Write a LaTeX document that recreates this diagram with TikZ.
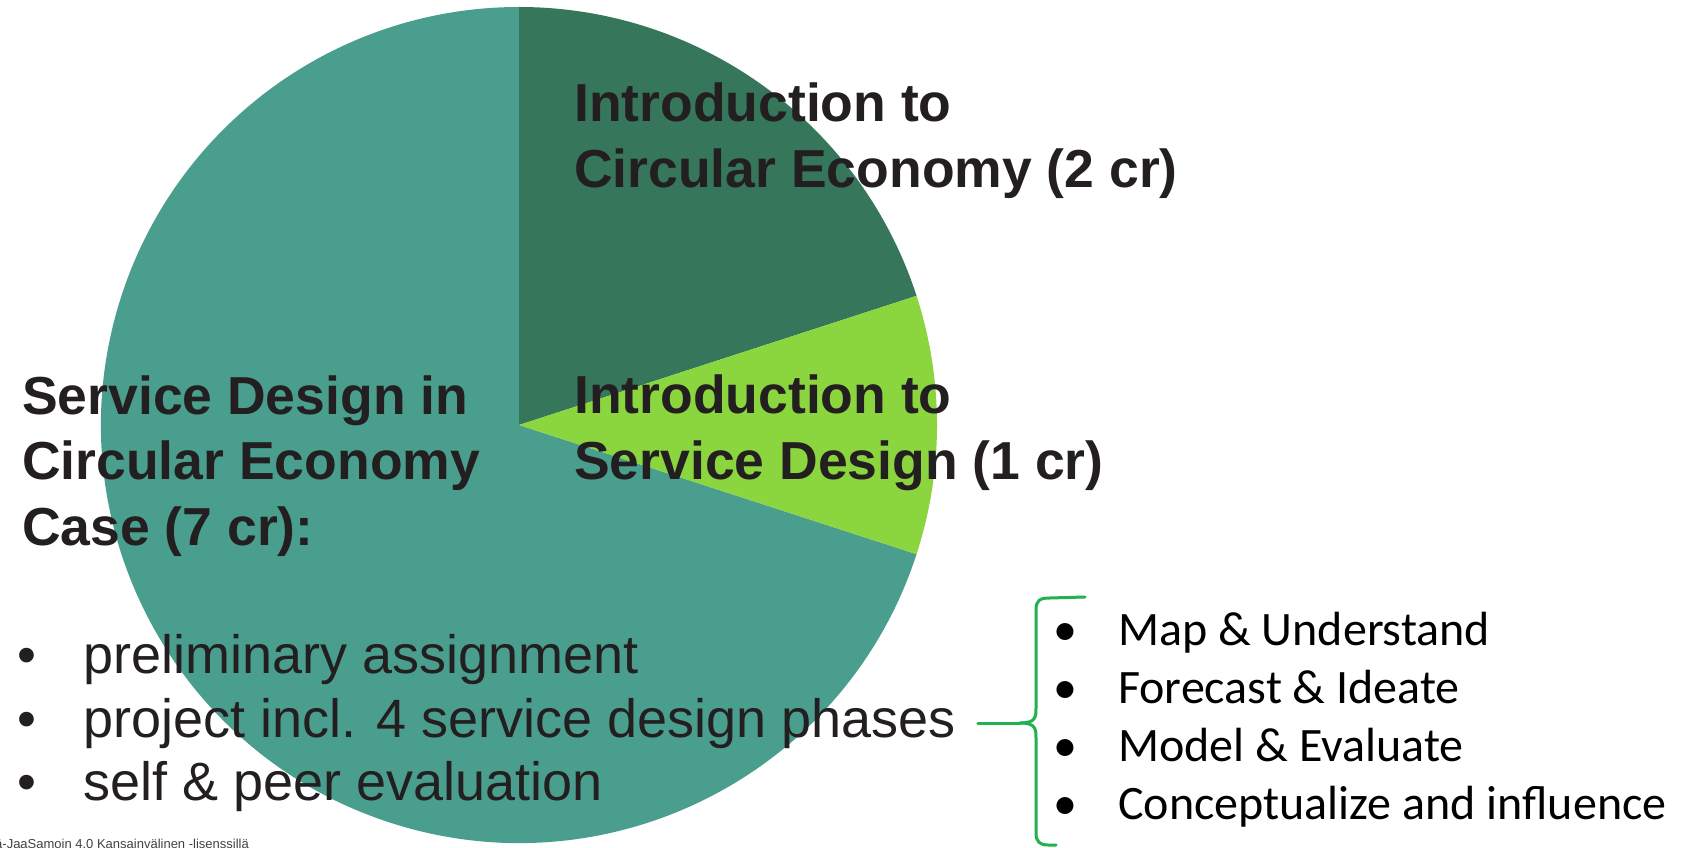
\documentclass[tikz,border=0pt]{standalone}
\usepackage{fontspec}
\setmainfont{Liberation Sans}
\newfontfamily\calib{Carlito}
\definecolor{darkg}{RGB}{54,118,91}
\definecolor{lightg}{RGB}{139,213,62}
\definecolor{tealc}{RGB}{74,158,142}
\definecolor{bracec}{RGB}{31,178,77}
\definecolor{textc}{RGB}{35,31,32}
\begin{document}
\begin{tikzpicture}[x=1pt,y=1pt,
  head/.style={anchor=base west,inner sep=0pt,font=\fontsize{53.5}{64}\selectfont\bfseries,text=textc},
  item/.style={anchor=base west,inner sep=0pt,font=\fontsize{54}{63}\selectfont,text=textc},
  itembul/.style={anchor=base,inner sep=0pt,font=\fontsize{54}{63}\selectfont,text=textc},
  phase/.style={anchor=base west,inner sep=0pt,font=\calib\fontsize{48}{58}\selectfont,text=black},
  phasebul/.style={anchor=base,inner sep=0pt,font=\calib\fontsize{48}{58}\selectfont,text=black},
  bracestyle/.style={draw=bracec,line width=3pt,line join=round,line cap=round}
]
\fill[white] (0,0) rectangle (1699,847);
\useasboundingbox (0,0) rectangle (1699,847);
% pie
\coordinate (c) at (519,422);
\fill[tealc] (c) -- ++(-18:418) arc[start angle=-18,end angle=-270,radius=418] -- cycle;
\fill[darkg] (c) -- ++(90:418) arc[start angle=90,end angle=18,radius=418] -- cycle;
\fill[lightg] (c) -- ++(18:418) arc[start angle=18,end angle=-18,radius=418] -- cycle;
% headings
\node[head] (ce1) at (574,725) {Introduction to};
\node[head] (ce2) at (574,659) {Circular Economy (2 cr)};
\node[head] (sd1) at (574,433) {Introduction to};
\node[head] (sd2) at (574,368) {Service Design (1 cr)};
\node[head] (cs1) at (22,432) {Service Design in};
\node[head] (cs2) at (22,367) {Circular Economy};
\node[head] (cs3) at (22,302) {Case (7 cr):};
% left list
\node[itembul] (b1) at (27,174) {•};
\node[item] (i1) at (83,174) {preliminary assignment};
\node[itembul] (b2) at (27,110) {•};
\node[item] (i2) at (83,110) {project incl. 4 service design phases};
\node[itembul] (b3) at (27,47) {•};
\node[item] (i3) at (83,47) {self \& peer evaluation};
% brace
\coordinate (tip) at (1020,124);
\draw[bracestyle] (tip) .. controls (1036,124) and (1036,130) .. (1036,140) -- (1036,237)
   .. controls (1036,247) and (1040,249) .. (1050,249) -- (1085,250);
\draw[bracestyle] (tip) .. controls (1036,124) and (1036,118) .. (1036,108) -- (1036,14)
   .. controls (1036,5) and (1040,2) .. (1048,2) -- (1056,2);
\draw[bracestyle,shorten <=22pt] (i2.east |- tip) -- (tip);
% right list
\node[phasebul] (pb1) at (1065,202) {•};
\node[phase] (p1) at (1118,202) {Map \& Understand};
\node[phasebul] (pb2) at (1065,144) {•};
\node[phase] (p2) at (1118,144) {Forecast \& Ideate};
\node[phasebul] (pb3) at (1065,86) {•};
\node[phase] (p3) at (1118,86) {Model \& Evaluate};
\node[phasebul] (pb4) at (1065,28) {•};
\node[phase] (p4) at (1118,28) {Conceptualize and influence};
% footer
\node[anchor=base west,inner sep=0pt,font=\fontsize{13}{15}\selectfont,text=textc!85] (lic) at (-5,-1) {ä-JaaSamoin 4.0 Kansainvälinen -lisenssillä};
\end{tikzpicture}
\end{document}
